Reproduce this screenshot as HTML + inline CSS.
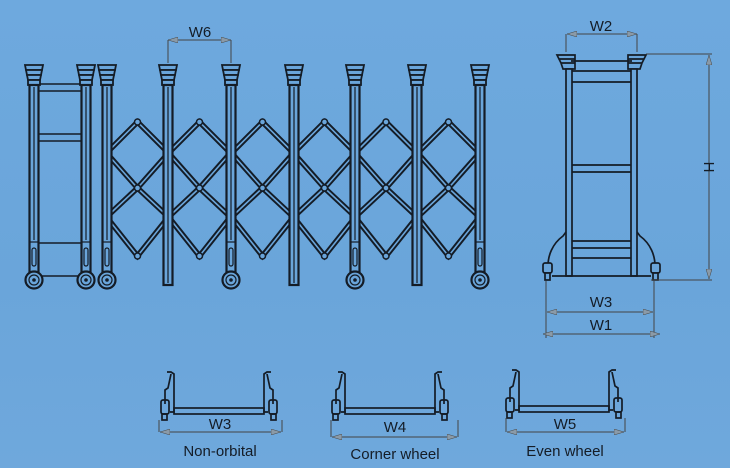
<!DOCTYPE html>
<html><head><meta charset="utf-8"><style>
html,body{margin:0;padding:0;width:730px;height:468px;overflow:hidden}
body{background:linear-gradient(180deg,#6ea9de 0%,#6aa5da 60%,#6fa8dc 100%)}
svg{display:block}
text{font-family:"Liberation Sans",sans-serif;font-size:15px;fill:#141c26}
</style></head><body>
<svg width="730" height="468" viewBox="0 0 730 468" xmlns="http://www.w3.org/2000/svg">
<defs>
<g id="cap" fill="#6aa5da" stroke="#141c26" stroke-width="1.8">
<path d="M-9,65 H9 L8,70 H-8 Z"/><path d="M-8,70 H8 L7,75 H-7 Z"/><path d="M-7,75 H7 L6,80 H-6 Z"/><rect x="-6" y="80" width="12" height="5"/>
</g>
<g id="post">
<use href="#cap"/>
<rect x="-4.5" y="85" width="9" height="200" fill="#6aa5da" stroke="#141c26" stroke-width="2.2"/>
<line x1="0" y1="87" x2="0" y2="283" stroke="#141c26" stroke-width="1.2"/>
</g>
<g id="wpost">
<use href="#cap"/>
<rect x="-4.5" y="85" width="9" height="187" fill="#6aa5da" stroke="#141c26" stroke-width="2.2"/>
<line x1="0" y1="87" x2="0" y2="240" stroke="#141c26" stroke-width="1.2"/>
<rect x="-2" y="248" width="4" height="18" rx="2" fill="none" stroke="#141c26" stroke-width="1.2"/>
<line x1="-4" y1="242" x2="4" y2="242" stroke="#141c26" stroke-width="1.2"/>
<circle cx="0" cy="280" r="8.5" fill="#6aa5da" stroke="#141c26" stroke-width="2.2"/>
<circle cx="0" cy="280" r="5" fill="none" stroke="#141c26" stroke-width="1.2"/>
<circle cx="0" cy="280" r="1.8" fill="#141c26"/>
</g>
<g id="lat">
<path d="M-31,153 L0,122 L31,153 M-31,153 L0,188 L31,153 M-31,217 L0,188 L31,217 M-31,217 L0,256 L31,217" fill="none" stroke="#141c26" stroke-width="5.5"/>
<path d="M-31,153 L0,122 L31,153 M-31,153 L0,188 L31,153 M-31,217 L0,188 L31,217 M-31,217 L0,256 L31,217" fill="none" stroke="#6aa5da" stroke-width="1.6"/>
<circle cx="0" cy="122" r="3" fill="#6aa5da" stroke="#141c26" stroke-width="1.5"/>
<circle cx="0" cy="188" r="3" fill="#6aa5da" stroke="#141c26" stroke-width="1.5"/>
<circle cx="0" cy="256" r="3" fill="#6aa5da" stroke="#141c26" stroke-width="1.5"/>
</g>
<marker id="ar" viewBox="0 0 10 6" refX="10" refY="3" markerWidth="10" markerHeight="6" orient="auto-start-reverse" markerUnits="userSpaceOnUse"><path d="M0,0 L10,3 L0,6 Z" fill="#8a9aa8" stroke="#444" stroke-width="0.5"/></marker>
<g id="small" fill="none" stroke="#141c26" stroke-width="1.7">
<path d="M-52,0 h4 l3,2 v38 h-4 M-48,2 l-3,14 l-3,2 v14"/>
<rect x="-58" y="28" width="8" height="14" rx="2"/>
<rect x="-57" y="42" width="5" height="6"/>
<path d="M52,0 h-4 l-3,2 v38 h4 M48,2 l3,14 l3,2 v14"/>
<rect x="50" y="28" width="8" height="14" rx="2"/>
<rect x="52" y="42" width="5" height="6"/>
<rect x="-45" y="36" width="90" height="6"/>
</g>
</defs>

<use href="#lat" x="137.5"/><use href="#lat" x="199.5"/><use href="#lat" x="262.5"/>
<use href="#lat" x="324.5"/><use href="#lat" x="386"/><use href="#lat" x="448.5"/>

<g fill="#6aa5da" stroke="#141c26" stroke-width="1.5">
<rect x="38" y="84" width="44" height="7"/>
<rect x="38" y="134" width="44" height="7"/>
<line x1="38" y1="243" x2="82" y2="243"/>
<line x1="38" y1="276" x2="82" y2="276"/>
</g>

<use href="#wpost" x="34"/><use href="#wpost" x="86"/><use href="#wpost" x="107"/>
<use href="#post" x="168"/><use href="#wpost" x="231"/><use href="#post" x="294"/>
<use href="#wpost" x="355"/><use href="#post" x="417"/><use href="#wpost" x="480"/>

<g stroke="#444" stroke-width="1" fill="none">
<path d="M168,63 V40 M231,63 V40"/>
<line x1="168" y1="40" x2="231" y2="40" marker-start="url(#ar)" marker-end="url(#ar)"/>
</g>
<text x="200" y="37" text-anchor="middle">W6</text>

<g fill="#6aa5da" stroke="#141c26" stroke-width="1.7">
<path d="M557,55 h18 v4 h-16 z M559,59 h16 v4 h-14 z M561,63 h14 v6 h-12 z"/>
<path d="M646,55 h-18 v4 h16 z M644,59 h-16 v4 h14 z M642,63 h-14 v6 h12 z"/>
<line x1="571" y1="61" x2="632" y2="61"/>
<rect x="566" y="69" width="6" height="207"/>
<rect x="631" y="69" width="6" height="207"/>
<line x1="572" y1="71" x2="631" y2="71"/><line x1="572" y1="82" x2="631" y2="82"/>
<line x1="572" y1="165" x2="631" y2="165"/><line x1="572" y1="172" x2="631" y2="172"/>
<line x1="572" y1="241" x2="631" y2="241"/><line x1="572" y1="248" x2="631" y2="248"/>
<line x1="572" y1="258" x2="631" y2="258"/>
<line x1="552" y1="276" x2="651" y2="276"/>
<path d="M566,232 l-3,4 C552,244 548,256 548,266" fill="none"/>
<path d="M637,232 l3,4 C651,244 655,256 655,266" fill="none"/>
<rect x="543" y="263" width="9" height="10" rx="2"/>
<rect x="545" y="273" width="5" height="7"/>
<rect x="651" y="263" width="9" height="10" rx="2"/>
<rect x="653" y="273" width="5" height="7"/>
</g>
<g stroke="#444" stroke-width="1" fill="none">
<path d="M566,52 V34 M637,52 V34"/>
<line x1="567" y1="34" x2="637" y2="34" marker-start="url(#ar)" marker-end="url(#ar)"/>
<path d="M646,54 H712 M651,280 H712"/>
<line x1="709" y1="55" x2="709" y2="279" marker-start="url(#ar)" marker-end="url(#ar)"/>
<path d="M546,281 V338 M654,281 V338"/>
<line x1="547" y1="312" x2="653" y2="312" marker-start="url(#ar)" marker-end="url(#ar)"/>
<line x1="543" y1="334" x2="660" y2="334" marker-start="url(#ar)" marker-end="url(#ar)"/>
</g>
<text x="601" y="31" text-anchor="middle">W2</text>
<text x="601" y="307" text-anchor="middle">W3</text>
<text x="601" y="330" text-anchor="middle">W1</text>
<text transform="translate(704,167) rotate(90)" text-anchor="middle">H</text>

<use href="#small" x="219" y="372"/>
<use href="#small" x="390" y="372"/>
<use href="#small" x="564" y="370"/>
<g stroke="#444" stroke-width="1" fill="none">
<path d="M159,420 V432 M282,420 V432"/>
<line x1="160" y1="432" x2="281" y2="432" marker-start="url(#ar)" marker-end="url(#ar)"/>
<path d="M331,420 V437 M458,420 V437"/>
<line x1="332" y1="437" x2="457" y2="437" marker-start="url(#ar)" marker-end="url(#ar)"/>
<path d="M506,418 V432 M625,418 V432"/>
<line x1="507" y1="432" x2="624" y2="432" marker-start="url(#ar)" marker-end="url(#ar)"/>
</g>
<text x="220" y="429" text-anchor="middle">W3</text>
<text x="395" y="432" text-anchor="middle">W4</text>
<text x="565" y="429" text-anchor="middle">W5</text>
<text x="220" y="456" text-anchor="middle">Non-orbital</text>
<text x="395" y="459" text-anchor="middle">Corner wheel</text>
<text x="565" y="456" text-anchor="middle">Even wheel</text>
</svg>
</body></html>
